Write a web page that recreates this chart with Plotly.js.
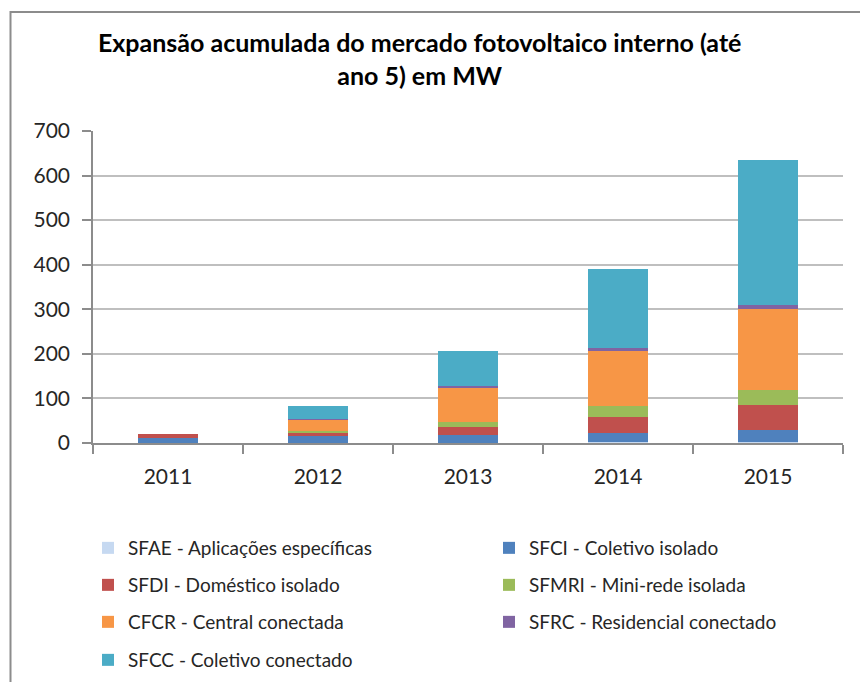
<!DOCTYPE html>
<html>
<head>
<meta charset="utf-8">
<script src="https://cdn.plot.ly/plotly-3.0.1.min.js"></script>
<style>html,body{margin:0;padding:0;background:#fff;}#chart{width:860px;height:682px;}</style>
</head>
<body>
<div id="chart"></div>
<script>
const years = ['2011', '2012', '2013', '2014', '2015'];
const seriesNames = [
  'SFAE - Aplicações específicas',
  'SFCI - Coletivo isolado',
  'SFDI - Doméstico isolado',
  'SFMRI - Mini-rede isolada',
  'CFCR - Central conectada',
  'SFRC - Residencial conectado',
  'SFCC - Coletivo conectado'
];
const sfae  = [0.5, 1, 1, 1.5, 2];
const sfci  = [11.5, 14, 16, 20, 28];
const sfdi  = [9, 8, 18, 36, 56];
const sfmri = [0, 4, 13, 26, 34];
const cfcr  = [0, 26, 76, 123, 180];
const sfrc  = [0, 1, 4, 7, 10];
const sfcc  = [0, 29, 79, 177, 325];
const yTicks = [0, 100, 200, 300, 400, 500, 600, 700];
const titleText = 'Expansão acumulada do mercado fotovoltaico interno (até<br>ano 5) em MW';

const colors = ['#c6d9f1', '#4f81bd', '#c0504d', '#9bbb59', '#f79646', '#8064a2', '#4bacc6'];
const values = [sfae, sfci, sfdi, sfmri, cfcr, sfrc, sfcc];

const FONT = 'Lato, "Open Sans", sans-serif';
const L = 93, R = 843, T = 131, B = 443;
const pw = R - L, ph = B - T;
function py(p) { return (B - p) / ph; }
function px(p) { return (p - L) / pw; }

// legend slot positions (pixel) for each series: [left, rowCenter]
const legendSlots = [[88, 548], [489, 548], [88, 585], [489, 585], [88, 622], [489, 622], [88, 660]];

const traces = values.map((v, i) => ({
  type: 'bar',
  name: seriesNames[i],
  x: years,
  y: v,
  marker: {color: colors[i], line: {width: 0}},
  legend: i === 0 ? 'legend' : 'legend' + (i + 1),
  hoverinfo: 'name+y'
}));

const layout = {
  width: 860, height: 682,
  margin: {l: L, r: 860 - R, t: T, b: 682 - B, pad: 0, autoexpand: false},
  paper_bgcolor: '#ffffff',
  plot_bgcolor: '#ffffff',
  font: {family: FONT, size: 20, color: '#262626'},
  barmode: 'stack',
  bargap: 0.6,
  title: {
    text: titleText,
    font: {family: FONT, size: 25, color: '#000000', weight: 'bold'},
    xref: 'container', x: 0.488, xanchor: 'center',
    yref: 'container', y: 1 - 52 / 682, yanchor: 'top'
  },
  xaxis: {
    type: 'category',
    showgrid: false,
    showline: true, linecolor: '#8c8c8c', linewidth: 1.5,
    ticks: 'outside', tickson: 'boundaries', ticklen: 9, tickcolor: '#8c8c8c', tickwidth: 1.5,
    tickfont: {family: FONT, size: 21, color: '#262626'},
    ticklabelstandoff: 14,
    fixedrange: true
  },
  yaxis: {
    range: [0, 700],
    tickvals: yTicks,
    showgrid: true, gridcolor: '#bfbfbf', gridwidth: 1.5,
    showline: true, linecolor: '#8c8c8c', linewidth: 1.5,
    ticks: 'outside', ticklen: 9, tickcolor: '#8c8c8c', tickwidth: 1.5,
    tickfont: {family: FONT, size: 21, color: '#262626'},
    ticklabelstandoff: 8,
    zeroline: false,
    fixedrange: true
  },
  shapes: [{
    type: 'rect', xref: 'paper', yref: 'paper',
    x0: px(10.5), x1: px(875), y0: py(700), y1: py(12),
    line: {color: '#8c8c8c', width: 2}, fillcolor: 'rgba(0,0,0,0)', layer: 'below'
  }],
  showlegend: true
};

legendSlots.forEach((s, i) => {
  const key = i === 0 ? 'legend' : 'legend' + (i + 1);
  layout[key] = {
    orientation: 'v',
    x: px(s[0]), xanchor: 'left',
    y: py(s[1]), yanchor: 'middle',
    font: {family: FONT, size: 19, color: '#262626'},
    bgcolor: 'rgba(0,0,0,0)',
    itemclick: false, itemdoubleclick: false
  };
});

Plotly.newPlot('chart', traces, layout, {displayModeBar: false});
</script>
</body>
</html>
